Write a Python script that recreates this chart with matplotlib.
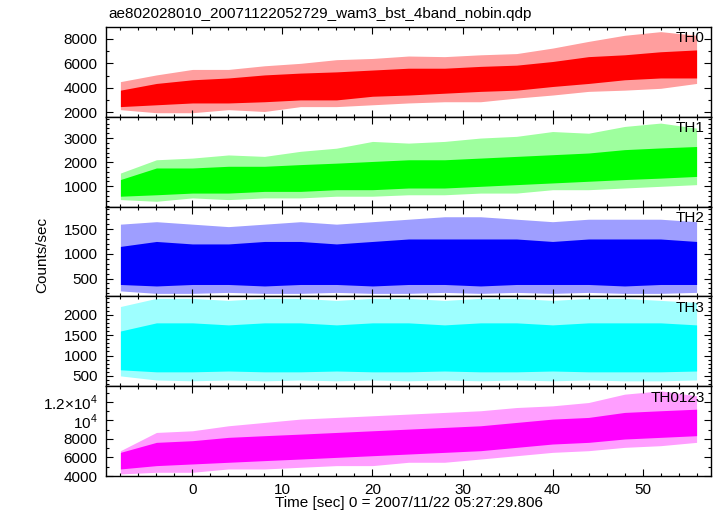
"""
Light curve of the WAM burst, 4 energy bands plus the sum, one panel per band.
"""
#-->Import libraries
import matplotlib
matplotlib.use("Agg")
import matplotlib.pyplot as plt
from matplotlib.ticker import MultipleLocator, FixedLocator, FixedFormatter

plt.rcParams["font.family"] = ["Liberation Sans", "DejaVu Sans"]
plt.rcParams["mathtext.fontset"] = "custom"
plt.rcParams["mathtext.rm"] = "Liberation Sans"

#-->Data (time knots every 4 s, envelope of the counts)
times = [-8, -4, 0, 4, 8, 12, 16, 20, 24, 28, 32, 36, 40, 44, 48, 52, 56]

th0_peak_hi = [4500, 5050, 5500, 5500, 5800, 6000, 6300, 6400, 6600, 6550, 6700, 6800, 7250, 7800, 8300, 8600, 8300]
th0_peak_lo = [2200, 1950, 1950, 2200, 2050, 2450, 2450, 2600, 2750, 2850, 2850, 3150, 3400, 3700, 3800, 3950, 4350]
th0_core_hi = [3800, 4350, 4650, 4800, 5050, 5200, 5300, 5450, 5600, 5600, 5750, 5850, 6150, 6550, 6700, 6950, 7100]
th0_core_lo = [2450, 2600, 2750, 2750, 2850, 3000, 3000, 3300, 3400, 3550, 3700, 3800, 4100, 4350, 4650, 4800, 4800]

th1_peak_hi = [1550, 2100, 2170, 2300, 2240, 2450, 2580, 2860, 2790, 2860, 3000, 3070, 3270, 3200, 3480, 3620, 3410]
th1_peak_lo = [450, 380, 520, 450, 520, 520, 590, 590, 650, 650, 720, 720, 860, 860, 930, 1000, 1070]
th1_core_hi = [1280, 1760, 1760, 1830, 1830, 1900, 1960, 2030, 2100, 2100, 2170, 2240, 2310, 2380, 2520, 2590, 2650]
th1_core_lo = [590, 650, 720, 720, 790, 790, 860, 860, 930, 930, 1000, 1070, 1140, 1210, 1280, 1340, 1410]

th2_peak_hi = [1600, 1650, 1600, 1550, 1600, 1650, 1600, 1650, 1700, 1750, 1750, 1700, 1650, 1700, 1700, 1700, 1650]
th2_peak_lo = [250, 200, 200, 220, 200, 200, 220, 200, 200, 220, 200, 220, 200, 220, 200, 200, 220]
th2_core_hi = [1150, 1250, 1200, 1200, 1250, 1250, 1200, 1250, 1300, 1300, 1300, 1300, 1250, 1300, 1300, 1300, 1250]
th2_core_lo = [380, 350, 380, 380, 350, 380, 380, 350, 380, 380, 350, 380, 380, 380, 350, 380, 380]

th3_peak_hi = [2200, 2400, 2400, 2350, 2400, 2400, 2350, 2400, 2400, 2350, 2400, 2400, 2350, 2400, 2400, 2350, 2300]
th3_peak_lo = [500, 400, 380, 400, 380, 400, 380, 400, 380, 400, 380, 400, 380, 400, 380, 380, 400]
th3_core_hi = [1600, 1800, 1800, 1750, 1800, 1800, 1750, 1800, 1800, 1750, 1800, 1800, 1750, 1800, 1800, 1800, 1750]
th3_core_lo = [650, 600, 600, 620, 600, 600, 620, 600, 600, 620, 600, 600, 620, 600, 600, 600, 620]

sum_peak_hi = [6730, 8700, 8880, 9420, 9780, 10140, 10320, 10500, 10680, 10860, 11040, 11390, 11570, 11930, 12830, 13190, 12650]
sum_peak_lo = [4220, 4400, 4400, 4760, 4760, 4940, 5120, 5120, 5480, 5480, 5830, 6190, 6550, 6730, 7090, 7270, 7630]
sum_core_hi = [6550, 7630, 7810, 8170, 8350, 8520, 8700, 8880, 9060, 9240, 9420, 9780, 10140, 10320, 10860, 11040, 11210]
sum_core_lo = [4760, 5120, 5300, 5480, 5660, 5830, 6010, 6190, 6370, 6550, 6730, 7090, 7450, 7630, 7990, 8170, 8350]

band_names = ["TH0", "TH1", "TH2", "TH3", "TH0123"]
band_colors = ["#ff0000", "#00ff00", "#0000ff", "#00ffff", "#ff00ff"]

#-->Panel setup
panels = [
    (th0_peak_lo, th0_peak_hi, th0_core_lo, th0_core_hi, (1615, 8980), 2000, 1000),
    (th1_peak_lo, th1_peak_hi, th1_core_lo, th1_core_hi, (160, 3880), 1000, 200),
    (th2_peak_lo, th2_peak_hi, th2_core_lo, th2_core_hi, (139, 1955), 500, 100),
    (th3_peak_lo, th3_peak_hi, th3_core_lo, th3_core_hi, (248, 2448), 500, 100),
    (sum_peak_lo, sum_peak_hi, sum_core_lo, sum_core_hi, (4000, 13690), 2000, 1000),
]

fig, axes = plt.subplots(5, 1, figsize=(7.17, 5.16), dpi=100, sharex=True)
fig.subplots_adjust(left=106 / 717, right=711 / 717, top=1 - 27 / 516,
                    bottom=1 - 476 / 516, hspace=0)

for ax, (plo, phi, clo, chi, ylim, major, minor), name, col in zip(axes, panels, band_names, band_colors):
    #-->Sparse spikes (light) and dense body (solid)
    ax.fill_between(times, plo, phi, color=col, alpha=0.38, linewidth=0)
    ax.fill_between(times, clo, chi, color=col, linewidth=0)
    ax.set_ylim(*ylim)
    ax.yaxis.set_major_locator(MultipleLocator(major))
    ax.yaxis.set_minor_locator(MultipleLocator(minor))
    ax.text(0.990, 0.95, name, transform=ax.transAxes, ha="right", va="top", fontsize=11)
    for sp in ax.spines.values():
        sp.set_linewidth(1.0)
    ax.tick_params(which="both", direction="in", top=True, right=True, labelsize=11,
                   pad=6, width=0.8)
    ax.tick_params(which="major", length=5)
    ax.tick_params(which="minor", length=2.5)

#-->Custom labels for the summed panel
sum_ticks = [4000, 6000, 8000, 10000, 12000]
sum_labels = ["4000", "6000", "8000", r"$10^4$", r"$1.2{\times}10^4$"]
axes[4].yaxis.set_major_locator(FixedLocator(sum_ticks))
axes[4].yaxis.set_major_formatter(FixedFormatter(sum_labels))

axes[4].set_xlim(-9.6, 57.6)
axes[4].xaxis.set_major_locator(MultipleLocator(10))
axes[4].xaxis.set_minor_locator(MultipleLocator(2))
axes[4].tick_params(axis="x", pad=5)

#-->Titles
fig.text(108 / 717, 1 - 14 / 516, "ae802028010_20071122052729_wam3_bst_4band_nobin.qdp",
         ha="left", va="center", fontsize=11)
fig.text(42 / 717, 1 - 255 / 516, "Counts/sec", rotation=90, ha="center", va="center", fontsize=11)
axes[4].set_xlabel("Time [sec] 0 = 2007/11/22 05:27:29.806", fontsize=11, labelpad=-1)

plt.savefig("out.png", dpi=100)
